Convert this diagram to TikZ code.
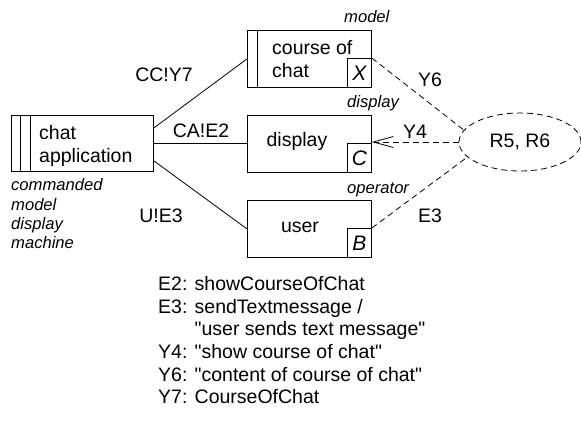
\documentclass[tikz,border=0pt]{standalone}
\usepackage{fontspec}
\setmainfont{Liberation Sans}[Ligatures=TeXOff]
\usetikzlibrary{shapes.geometric,arrows.meta,calc}

\begin{document}
\begin{tikzpicture}[x=1pt,y=-1pt,
  box/.style={draw, line width=0.8pt, inner sep=0pt, anchor=north west},
  dombox/.style={draw, line width=0.8pt, inner sep=0pt, anchor=south east,
    minimum width=24pt, minimum height=29pt, font=\fontsize{21}{21}\selectfont\itshape},
  stripe/.style={line width=0.8pt},
  txt/.style={font=\fontsize{19.5}{23}\selectfont, inner sep=0pt},
  role/.style={font=\fontsize{16.6}{19}\selectfont\itshape, inner sep=0pt, anchor=base west},
  iface/.style={txt, anchor=base},
  conn/.style={line width=0.8pt},
  phen/.style={line width=0.8pt, dash pattern=on 6pt off 4pt},
]
\useasboundingbox (0,0) rectangle (581,430);

% machine domain with its two stripes
\node[box, minimum width=142pt, minimum height=56pt] (mach) at (11,115) {};
\draw[stripe] ($(mach.north west)+(9,0)$) -- ($(mach.south west)+(9,0)$);
\draw[stripe] ($(mach.north west)+(19,0)$) -- ($(mach.south west)+(19,0)$);
\node[txt, anchor=base west] (machA) at (39,140) {chat};
\node[txt, anchor=base west] (machB) at (39,163) {application};

\node[role] (mr1) at (11,191) {commanded};
\node[role] (mr2) at (11,211) {model};
\node[role] (mr3) at (11,230) {display};
\node[role] (mr4) at (11,249) {machine};

% designed domain: course of chat
\node[box, minimum width=124pt, minimum height=57pt] (course) at (247,30) {};
\draw[stripe] ($(course.north west)+(10,0)$) -- ($(course.south west)+(10,0)$);
\node[txt, anchor=base west] (courseA) at (272,55) {course of};
\node[txt, anchor=base west] (courseB) at (272,78) {chat};
\node[dombox] (xdom) at (course.south east) {X};
\node[role] (courseRole) at (344,23) {model};

% display
\node[box, minimum width=124pt, minimum height=57pt] (disp) at (247,115) {};
\node[txt, anchor=base] (dispT) at (297,147) {display};
\node[dombox] (cdom) at (disp.south east) {C};
\node[role] (dispRole) at (347,108) {display};

% user
\node[box, minimum width=124pt, minimum height=57pt] (user) at (247,200) {};
\node[txt, anchor=base] (userT) at (300,233) {user};
\node[dombox] (bdom) at (user.south east) {B};
\node[role] (userRole) at (347,194) {operator};

% requirement
\node[ellipse, draw, line width=0.8pt, dash pattern=on 6pt off 4pt,
  minimum width=122pt, minimum height=58pt, inner sep=0pt,
  font=\fontsize{19.5}{23}\selectfont] (req) at (520,142) {R5, R6};

% interfaces
\draw[conn] ($(mach.north east)+(0,13)$) -- (course.west);
\draw[conn] (mach.east) -- (mach.east -| disp.west);
\draw[conn] ($(mach.south east)+(0,-11)$) -- (user.west);
\node[iface] (lCC) at (164,82) {CC!Y7};
\node[iface] (lCA) at (201,138) {CA!E2};
\node[iface] (lU) at (161,223) {U!E3};

% requirement references
\draw[phen] (xdom.north east) -- (req.168);
\draw[phen, -{Straight Barb[length=20pt,width=11pt]}] (req.west) -- (req.west -| disp.east);
\draw[phen] (bdom.north east) -- (req.196);
\node[iface] (lY6) at (430,87) {Y6};
\node[iface] (lY4) at (415,139) {Y4};
\node[iface] (lE3) at (430,223) {E3};

% phenomena legend
\node[txt, anchor=base west] (leg1) at (158,291) {E2: showCourseOfChat};
\node[txt, anchor=base west] (leg2) at (158,313) {E3: sendTextmessage /};
\node[txt, anchor=base west] (leg3) at (158,336) {\phantom{E3: }"user sends text message"};
\node[txt, anchor=base west] (leg4) at (158,358) {Y4: "show course of chat"};
\node[txt, anchor=base west] (leg5) at (158,381) {Y6: "content of course of chat"};
\node[txt, anchor=base west] (leg6) at (158,403) {Y7: CourseOfChat};
\end{tikzpicture}
\end{document}
